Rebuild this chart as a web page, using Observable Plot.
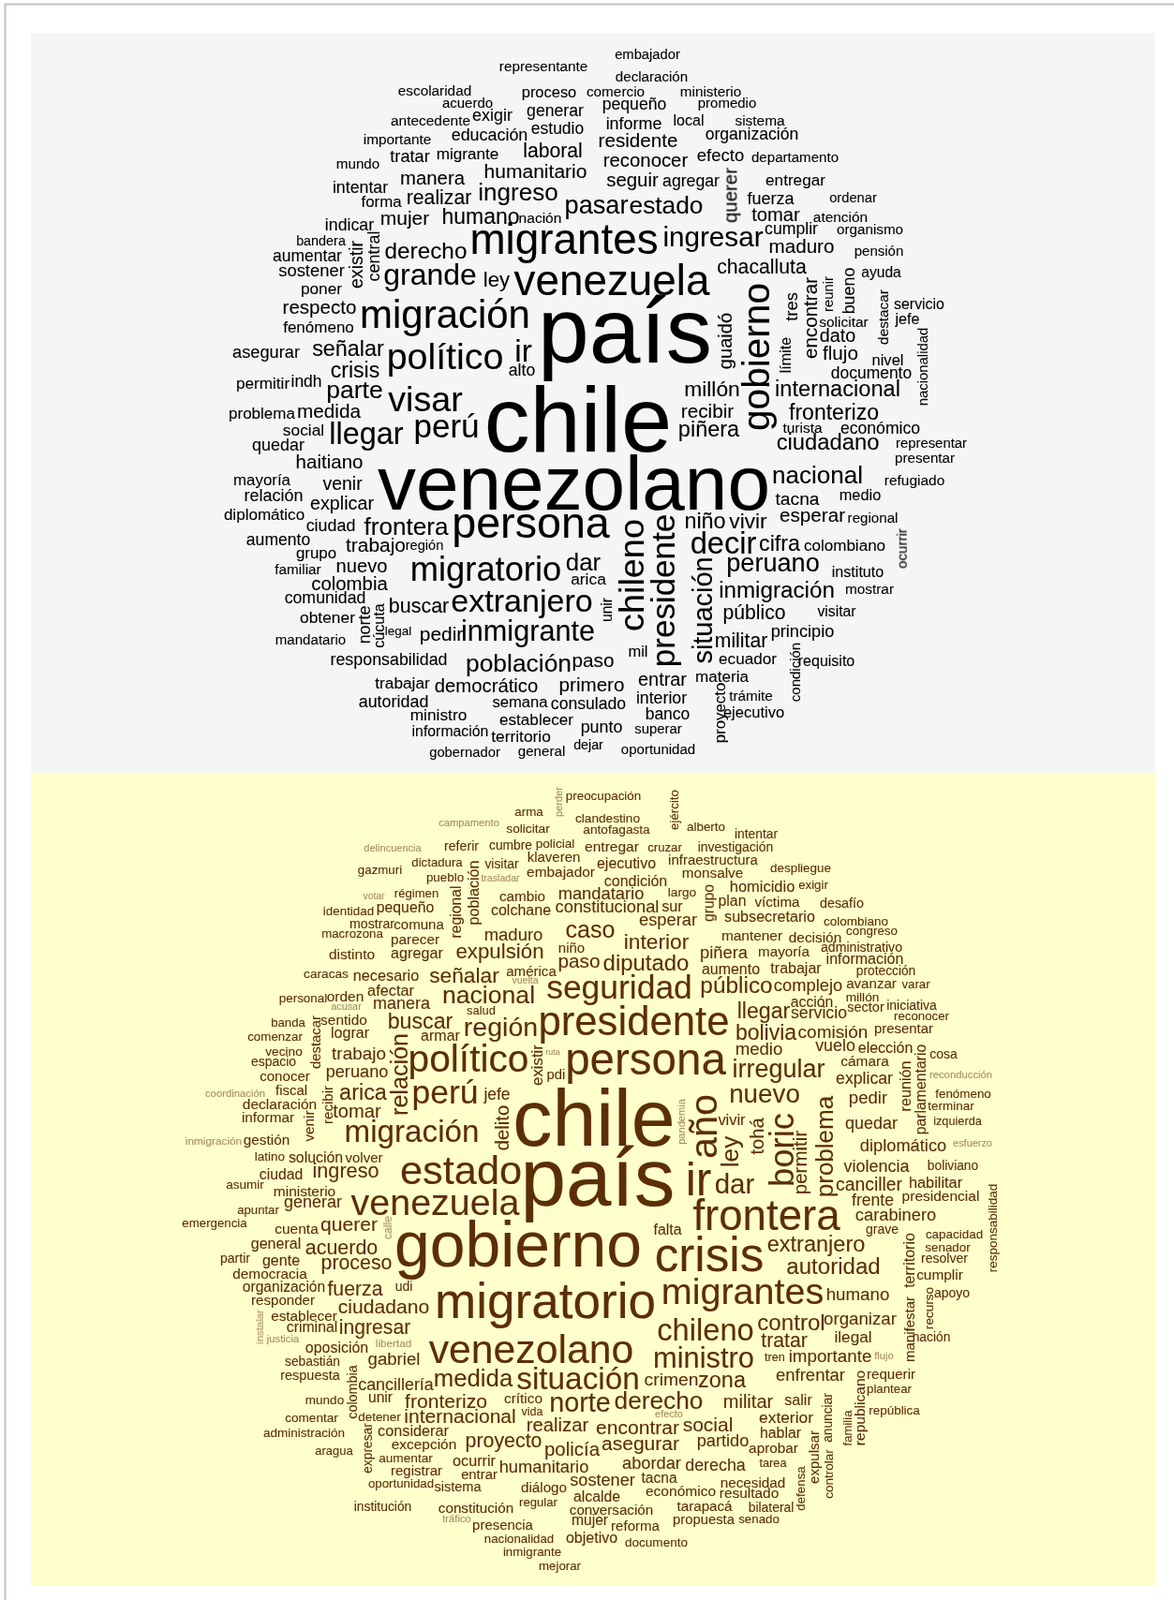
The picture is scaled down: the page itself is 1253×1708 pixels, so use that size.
<!DOCTYPE html>
<html><head><meta charset="utf-8">
<style>html,body{margin:0;padding:0;background:#fff}svg{display:block}.soft{filter:blur(.3px)}</style>
<script src="https://cdn.jsdelivr.net/npm/d3@7"></script>
<script src="https://cdn.jsdelivr.net/npm/@observablehq/plot@0.6"></script>
</head><body><div id="chart"></div>
<script>
// [word, left, right, y]
const topFlat = [
["representante",533,626,71],["escolaridad",425,502,97],["proceso",557,614,99],["acuerdo",472,525,110],["exigir",504,546,124],["generar",562,622,119],["antecedente",417,501,129],["estudio",567,622,138],["educación",482,562,145],["importante",388,459,149],["tratar",416,458,168],["migrante",466,531,165],["laboral",559,620,162],["mundo",359,404,175],["humanitario",517,625,184],["manera",427,495,191],["intentar",355,413,201],["ingreso",511,594,206],["forma",385,428,216],["realizar",434,502,212],["pasar",603,669,220],["estado",672,749,220],["humano",472,553,232],["nación",554,598,233],["mujer",406,457,234],["indicar",347,398,241],["migrantes",503,700,258],["ingresar",708,813,254],["bandera",316,368,258],["aumentar",291,364,274],["derecho",411,497,269],["sostener",297,367,290],["grande",410,507,295],["ley",516,543,300],["venezuela",548,757,302],["poner",321,364,309],["respecto",302,379,329],["fenómeno",302,377,350],["migración",386,563,338],["asegurar",248,319,377],["señalar",333,409,373],["político",414,535,383],["ir",550,566,377],["alto",543,570,396],["crisis",353,404,396],["permitir",252,308,410],["indh",311,342,408],["parte",349,407,417],["visar",414,493,428],["país",578,755,360],["chile",520,713,455],["venezolano",404,820,521],
["embajador",656,725,59],["declaración",657,733,82],["comercio",626,687,98],["ministerio",726,790,98],["pequeño",643,710,112],["promedio",745,806,110],["informe",647,705,133],["local",719,750,129],["sistema",784,837,129],["organización",753,851,144],["residente",639,722,151],["reconocer",644,733,172],["efecto",744,793,167],["departamento",802,894,168],["seguir",647,702,193],["agregar",707,767,194],["entregar",817,880,193],["fuerza",797,847,213],["ordenar",885,935,212],["tomar",802,853,230],["atención",868,925,232],["cumplir",816,872,245],["organismo",893,963,245],["maduro",821,889,264],["pensión",912,963,268],["chacalluta",765,860,286],["ayuda",919,961,291],["servicio",954,1007,325],["jefe",955,981,341],["solicitar",874,926,344],["dato",875,912,359],["flujo",878,915,378],["nivel",931,963,385],["documento",887,972,399],["millón",731,788,416],["internacional",828,959,416],
["recibir",727,782,440],["piñera",724,788,459],["fronterizo",842,937,441],["turista",835,877,457],["económico",897,981,458],["ciudadano",829,937,473],["representar",956,1031,473],["presentar",955,1018,489],["nacional",825,919,508],["refugiado",944,1007,513],["tacna",827,874,533],["medio",896,939,529],["niño",731,773,557],["vivir",778,818,557],["esperar",832,901,551],["regional",905,957,553],["decir",737,806,582],["cifra",810,853,581],["colombiano",858,944,583],["peruano",776,873,602],["instituto",888,942,611],["inmigración",768,889,631],["mostrar",902,953,629],["público",772,837,655],["visitar",872,913,653],["militar",763,818,685],["principio",823,889,675],["mil",671,690,696],["ecuador",767,828,704],["requisito",852,911,706],["entrar",681,732,726],["materia",742,798,723],["trámite",778,824,743],["interior",679,732,746],["ejecutivo",772,836,761],["banco",689,735,763],["superar",677,727,778],["oportunidad",663,741,800],
["problema",244,314,442],["medida",317,384,440],["social",302,345,460],["llegar",352,429,465],["perú",443,509,457],["quedar",269,324,476],["haitiano",316,386,494],["mayoría",249,309,513],["venir",344,386,517],["relación",261,322,530],["explicar",331,398,538],["diplomático",239,324,550],["ciudad",327,378,562],["frontera",388,478,563],["persona",483,649,561],["aumento",263,330,577],["grupo",316,358,591],["trabajo",369,432,583],["región",433,472,583],["familiar",293,342,608],["nuevo",359,412,605],["migratorio",439,597,610],["dar",604,640,602],["arica",609,646,619],["colombia",332,413,624],["comunidad",304,389,639],["buscar",415,478,648],["extranjero",482,631,643],["obtener",320,378,660],["legal",411,438,674],["pedir",448,493,678],["inmigrante",493,633,675],["mandatario",294,368,683],["responsabilidad",353,476,705],["población",498,608,709],["paso",611,654,706],["trabajar",400,458,730],["democrático",464,573,733],["primero",597,665,732],["autoridad",383,456,750],["semana",525,584,750],["consulado",588,667,752],["ministro",438,497,764],["establecer",533,611,769],["punto",620,663,777],["información",440,520,781],["territorio",524,587,787],["dejar",612,643,796],["gobernador",458,533,803],["general",553,602,802]
];
// [word, x, top, bottom]
const topTurned = [
["existir",381,257,307],["central",400,247,299],["querer",780,179,237],["bueno",907,286,334],["reunir",884,295,332],["encontrar",866,296,382],["tres",846,312,342],["destacar",943,309,367],["guaidó",775,334,393],["gobierno",810,303,458],["límite",839,360,397],["nacionalidad",985,350,432],["chileno",676,555,672],["presidente",710,550,710],["ocurrir",963,564,606],["situación",752,595,707],["unir",648,638,663],["condición",849,686,748],["proyecto",769,729,792],["norte",390,647,686],["cúcuta",405,644,691]
];
const lowFlat = [
["preocupación",604,683,850],["arma",549,579,867],["campamento",468,532,878],["solicitar",540,586,885],["clandestino",614,682,874],["antofagasta",622,693,886],["alberto",733,773,883],["intentar",784,829,891],["delincuencia",388,449,906],["referir",474,510,904],["cumbre",522,567,903],["policial",572,612,901],["entregar",624,681,904],["cruzar",691,727,905],["investigación",745,824,905],["klaveren",563,618,915],["gazmuri",382,428,929],["dictadura",439,493,921],["visitar",517,553,923],["embajador",562,634,931],["ejecutivo",637,699,922],["infraestructura",713,808,918],["monsalve",728,792,932],["despliegue",822,886,927],["pueblo",455,494,937],["trasladar",513,554,938],["condición",645,711,941],["mandatario",596,686,955],["largo",713,742,953],["homicidio",779,847,947],["exigir",852,883,945],["votar",387,410,957],["régimen",421,467,954],["cambio",533,581,957],["plan",767,795,962],["víctima",805,853,963],["desafío",875,921,965],["identidad",345,398,973],["pequeño",402,462,969],["colchane",524,587,972],["constitucional",593,702,969],["sur",706,728,968],["subsecretario",773,869,979],["colombiano",879,947,984],["esperar",682,743,983],["mostrar",373,420,987],["comuna",420,473,987],["macrozona",343,408,997],["maduro",517,578,998],["caso",604,655,994],["interior",666,734,1006],["mantener",770,834,999],["decisión",842,897,1001],["congreso",903,957,994],["administrativo",876,962,1012],["parecer",417,468,1003],["distinto",351,399,1019],["agregar",417,472,1018],["expulsión",487,579,1016],["niño",596,623,1012],["paso",596,639,1027],["diputado",644,734,1029],["piñera",747,797,1018],["mayoría",809,863,1016],["información",882,963,1024],["aumento",749,810,1035],["trabajar",822,876,1034],["protección",914,976,1037],["caracas",324,371,1040],["necesario",377,446,1042],["señalar",458,532,1042],["américa",540,593,1037],["vuelta",546,574,1047],["seguridad",584,737,1056],["público",748,823,1053],["complejo",826,898,1053],["avanzar",903,956,1050],["varar",962,992,1051],["afectar",392,441,1058],["nacional",473,569,1063],["personal",298,348,1066],["orden",349,387,1064],["manera",398,458,1072],["acusar",353,385,1075],["salud",498,528,1079],["acción",844,888,1070],["millón",903,937,1065],["sector",904,943,1076],["iniciativa",946,999,1074],["reconocer",954,1012,1085],["llegar",787,842,1080],["servicio",844,903,1082],["banda",289,325,1092],["sentido",342,391,1089],["comenzar",264,322,1107],["lograr",353,393,1103],["buscar",414,482,1091],["armar",449,490,1106],["región",496,572,1098],["presidente",576,776,1093],["bolivia",785,849,1103],["comisión",852,925,1102],["presentar",933,995,1098],["medio",785,834,1120],["vuelo",870,912,1117],["elección",916,973,1119],["cosa",992,1021,1126],["vecino",283,322,1123],["trabajo",354,411,1125],["espacio",268,315,1134],["político",437,562,1133],["ruta",582,597,1123],["pdi",584,602,1147],["persona",604,773,1134],["irregular",782,879,1142],["cámara",897,948,1133],["conocer",277,330,1149],["peruano",348,413,1145],["explicar",892,952,1152],["reconducción",992,1058,1147],["coordinación",219,282,1167],["fiscal",294,327,1164],["arica",362,412,1167],["perú",441,508,1168],["jefe",516,544,1169],["declaración",259,337,1179],["nuevo",779,852,1169],["pedir",906,946,1172],["fenómeno",998,1057,1168],["terminar",990,1039,1181],["tomar",355,406,1187],["informar",258,313,1193],["migración",369,509,1210],["chile",550,717,1200],["vivir",766,795,1196],["quedar",902,957,1200],["izquierda",996,1047,1197],["diplomático",918,1009,1224],["esfuerzo",1017,1058,1221],["violencia",900,970,1246],["boliviano",990,1043,1245],["inmigración",198,257,1218],["gestión",260,308,1217],["latino",272,303,1235],["solución",308,365,1236],["volver",368,408,1236],["estado",428,555,1252],["país",559,716,1263],["ciudad",277,322,1254],["ingreso",334,403,1251],["asumir",241,281,1265],["ministerio",292,357,1272],["generar",303,364,1284],["venezuela",374,554,1286],["apuntar",253,297,1292],["ir",733,757,1262],["dar",763,804,1266],["canciller",892,962,1265],["habilitar",970,1026,1263],["presidencial",963,1044,1277],["frente",909,953,1282],["emergencia",194,263,1306],["cuenta",293,339,1312],["querer",342,402,1308],["frontera",739,896,1300],["carabinero",913,998,1298],["grave",924,958,1313],["falta",697,727,1313],["capacidad",988,1048,1318],["gobierno",423,682,1333],["general",268,320,1328],["acuerdo",326,402,1333],["crisis",700,813,1343],["extranjero",819,922,1329],["senador",987,1035,1332],["resolver",983,1032,1344],["partir",235,266,1344],["gente",280,319,1346],["proceso",343,417,1349],["autoridad",840,938,1353],["cumplir",978,1027,1361],["democracia",248,327,1360],["organización",259,346,1374],["fuerza",349,408,1377],["udi",422,439,1374],["migratorio",466,697,1392],["migrantes",707,877,1381],["humano",882,948,1382],["apoyo",997,1034,1381],["responder",268,335,1388],["ciudadano",361,457,1396],["establecer",289,359,1405],["criminal",306,359,1417],["ingresar",362,437,1418],["control",809,879,1413],["organizar",879,956,1408],["chileno",702,803,1422],["tratar",812,861,1432],["ilegal",891,929,1428],["nación",974,1013,1428],["justicia",284,319,1429],["libertad",401,438,1434],["oposición",326,392,1439],["sebastián",304,362,1454],["gabriel",393,447,1451],["venezolano",458,675,1443],["ministro",698,803,1451],["tren",816,837,1449],["importante",842,929,1448],["flujo",933,953,1447],["respuesta",299,362,1469],["cancillería",382,462,1479],["medida",463,546,1473],["situación",552,681,1473],["crimen",688,744,1473],["zona",745,795,1474],["enfrentar",828,901,1469],["requerir",925,976,1467],["plantear",925,972,1483],["mundo",326,366,1495],["unir",393,418,1492],["fronterizo",432,519,1497],["crítico",538,578,1493],["vida",556,579,1507],["norte",587,650,1499],["derecho",656,749,1496],["militar",772,824,1497],["salir",837,866,1495],["república",927,981,1506],["efecto",699,728,1510],["comentar",304,360,1514],["detener",382,427,1513],["internacional",432,549,1513],["exterior",810,867,1514],["realizar",562,627,1522],["encontrar",636,724,1525],["social",729,781,1522],["hablar",811,854,1530],["administración",281,367,1530],["considerar",403,478,1528],["excepción",418,486,1542],["proyecto",497,577,1539],["policía",581,639,1548],["asegurar",642,724,1542],["partido",744,798,1539],["aprobar",799,851,1546],["aragua",336,376,1549],["aumentar",404,461,1557],["ocurrir",483,528,1560],["humanitario",533,627,1567],["abordar",664,726,1563],["derecha",731,795,1565],["tarea",810,839,1562],["registrar",417,471,1570],["entrar",492,530,1574],["oportunidad",393,462,1584],["sistema",463,513,1588],["diálogo",556,604,1588],["sostener",608,677,1581],["tacna",684,722,1578],["necesidad",769,837,1583],["resultado",768,830,1594],["económico",689,763,1592],["alcalde",612,661,1598],["institución",378,438,1609],["constitución",468,547,1610],["regular",554,594,1604],["conversación",608,696,1612],["tarapacá",722,781,1608],["bilateral",799,846,1610],["mujer",610,648,1623],["propuesta",718,783,1622],["senado",788,831,1622],["tráfico",472,502,1621],["presencia",504,568,1628],["reforma",652,703,1629],["nacionalidad",517,590,1643],["objetivo",604,658,1642],["documento",667,733,1647],["inmigrante",537,598,1657],["mejorar",575,619,1672]
];
const lowTurned = [
["perder",597,840,871],["ejército",720,843,885],["población",506,919,986],["grupo",757,944,983],["regional",487,946,1000],["destacar",337,1084,1140],["parlamentario",983,1115,1210],["relación",428,1104,1189],["existir",574,1115,1158],["reunión",967,1133,1185],["recibir",350,1159,1199],["venir",330,1185,1218],["delito",537,1180,1227],["pandemia",728,1173,1221],["año",753,1169,1235],["tohá",809,1193,1232],["boric",837,1189,1265],["permitir",855,1207,1274],["problema",881,1170,1277],["ley",780,1213,1245],["responsabilidad",1060,1264,1357],["calle",414,1298,1322],["territorio",971,1316,1374],["recurso",992,1374,1418],["instalar",277,1398,1434],["manifestar",971,1384,1453],["colombia",377,1457,1514],["republicano",918,1463,1542],["anunciar",884,1487,1539],["familia",905,1505,1543],["expresar",393,1519,1572],["expulsar",869,1527,1583],["controlar",885,1547,1599],["defensa",855,1565,1612]
];
const lowPale = ["campamento","delincuencia","votar","trasladar","acusar","vuelta","ruta","coordinación","inmigración","pandemia","reconducción","esfuerzo","calle","instalar","justicia","libertad","flujo","efecto","tráfico","perder"];
const panelTop = [35,825];
const panelLow = [825,1693];
const panelSides = [33,1233];
const frameLeft = 5;
const frameTop = 4;

const family = "Liberation Sans";
const ctx = document.createElement("canvas").getContext("2d");
ctx.font = `100px "${family}"`;
function sizeFor(word, span){
  const m = ctx.measureText(word);
  return span / (m.actualBoundingBoxLeft + m.actualBoundingBoxRight) * 100;
}
const nudge = 0.05;
const flat = rows => rows.map(([word,a,b,y]) => { const s = sizeFor(word,b-a); return {word,x:(a+b)/2,y:y-nudge*s,size:s}; });
const turned = rows => rows.map(([word,x,a,b]) => { const s = sizeFor(word,b-a); return {word,x:x-nudge*s,y:(a+b)/2,size:s}; });
const pale = new Set(lowPale);
const upperFlat = flat(topFlat), upperTurned = turned(topTurned);
const lowerFlat = flat(lowFlat), lowerTurned = turned(lowTurned);
const upperInk = "#000000";
const lowerInk = d => pale.has(d.word) ? "#a58d5f" : "#5c2e04";
const textOpts = {x:"x",y:"y",text:"word",fontSize:"size",fontFamily:family,textAnchor:"middle",lineAnchor:"middle",className:"soft",strokeWidth:0.1};

const chart = Plot.plot({
  width:1253,height:1708,margin:0,
  x:{domain:[0,1253],range:[0,1253],axis:null},
  y:{domain:[0,1708],range:[0,1708],axis:null},
  marks:[
    Plot.ruleX([frameLeft],{y1:frameTop,y2:1708,stroke:"#c0c0c0",strokeWidth:2}),
    Plot.ruleY([frameTop],{x1:frameLeft,x2:1253,stroke:"#c0c0c0",strokeWidth:2}),
    Plot.rect([{x1:panelSides[0],x2:panelSides[1],y1:panelTop[0],y2:panelTop[1]}],{x1:"x1",x2:"x2",y1:"y1",y2:"y2",fill:"#f5f5f5"}),
    Plot.rect([{x1:panelSides[0],x2:panelSides[1],y1:panelLow[0],y2:panelLow[1]}],{x1:"x1",x2:"x2",y1:"y1",y2:"y2",fill:"#ffffcc"}),
    Plot.text(upperFlat,{...textOpts,fill:upperInk,stroke:upperInk}),
    Plot.text(upperTurned,{...textOpts,fill:upperInk,stroke:upperInk,rotate:-90}),
    Plot.text(lowerFlat,{...textOpts,fill:lowerInk,stroke:lowerInk}),
    Plot.text(lowerTurned,{...textOpts,fill:lowerInk,stroke:lowerInk,rotate:-90})
  ]
});
document.getElementById("chart").append(chart);
</script>
</body></html>
